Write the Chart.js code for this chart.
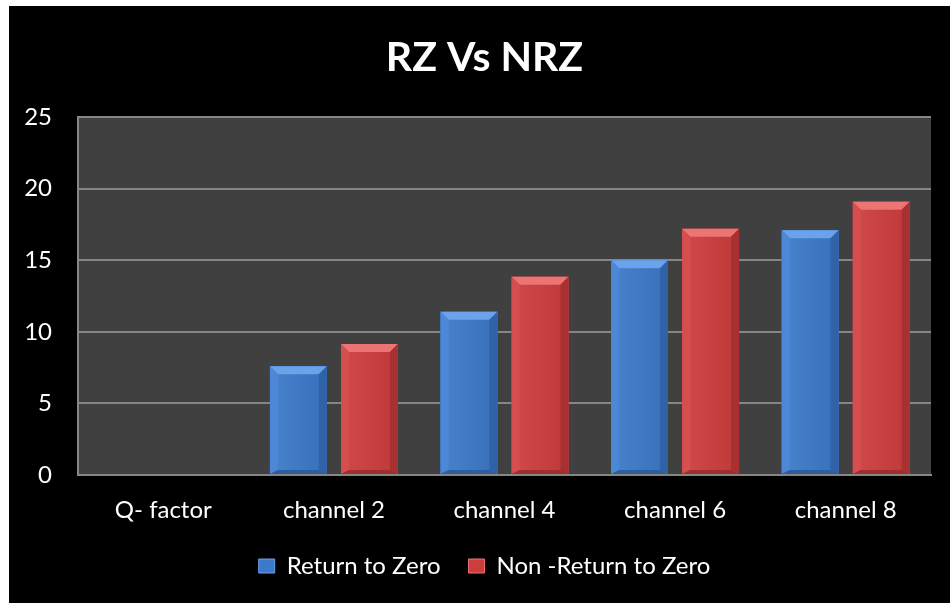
<!DOCTYPE html>
<html>
<head>
<meta charset="utf-8">
<script src="https://cdn.jsdelivr.net/npm/chart.js@4"></script>
<style>
  html, body { margin: 0; padding: 0; background: #ffffff; }
  #wrap { position: absolute; left: 9px; top: 6px; width: 941px; height: 597px; }
</style>
</head>
<body>
<div id="wrap"><canvas id="c"></canvas></div>
<script>
const categories = ["Q- factor", "channel 2", "channel 4", "channel 6", "channel 8"];
const rzValues = [0, 7.6, 11.4, 15.0, 17.1];
const nrzValues = [0, 9.15, 13.85, 17.2, 19.1];
const seriesNames = ["Return to Zero", "Non -Return to Zero"];
const yTicks = [0, 5, 10, 15, 20, 25];

const FONT = "Lato, 'Open Sans', sans-serif";

const bgPlugin = {
  id: 'bg',
  beforeDraw(chart) {
    const ctx = chart.ctx;
    ctx.save();
    ctx.fillStyle = '#000000';
    ctx.fillRect(0, 0, chart.width, chart.height);
    const a = chart.chartArea;
    ctx.fillStyle = '#404040';
    ctx.fillRect(a.left, a.top, a.right - a.left, a.bottom - a.top);
    ctx.restore();
  }
};

const palettes = [
  { main: '#3c79c8', top: '#6aa3ea', left: '#4c88d6', right: '#2f62a6', bottom: '#2f5e9e' },
  { main: '#cc3e3e', top: '#ec7474', left: '#d64f4f', right: '#a83030', bottom: '#a02e2e' }
];

const bevelPlugin = {
  id: 'bevel',
  afterDatasetsDraw(chart) {
    const ctx = chart.ctx;
    chart.data.datasets.forEach((ds, di) => {
      const meta = chart.getDatasetMeta(di);
      const p = palettes[di];
      meta.data.forEach(el => {
        const { x, y, base, width } = el.getProps(['x', 'y', 'base', 'width'], true);
        const h = base - y;
        if (h < 1) return;
        const l = x - width / 2, r = x + width / 2, t = y, b = base;
        const bv = Math.min(8, h / 2);
        const bb = Math.min(4, h / 4);
        ctx.save();
        ctx.fillStyle = p.main;
        ctx.fillRect(l, t, width, h);
        ctx.fillStyle = p.top;
        ctx.beginPath();
        ctx.moveTo(l, t); ctx.lineTo(r, t); ctx.lineTo(r - bv, t + bv); ctx.lineTo(l + bv, t + bv); ctx.closePath(); ctx.fill();
        ctx.fillStyle = p.left;
        ctx.beginPath();
        ctx.moveTo(l, t); ctx.lineTo(l + bv, t + bv); ctx.lineTo(l + bv, b - bb); ctx.lineTo(l, b); ctx.closePath(); ctx.fill();
        ctx.fillStyle = p.right;
        ctx.beginPath();
        ctx.moveTo(r, t); ctx.lineTo(r - bv, t + bv); ctx.lineTo(r - bv, b - bb); ctx.lineTo(r, b); ctx.closePath(); ctx.fill();
        ctx.fillStyle = p.bottom;
        ctx.beginPath();
        ctx.moveTo(l, b); ctx.lineTo(l + bv, b - bb); ctx.lineTo(r - bv, b - bb); ctx.lineTo(r, b); ctx.closePath(); ctx.fill();
        const g = ctx.createLinearGradient(l + bv, 0, r - bv, 0);
        g.addColorStop(0, 'rgba(255,255,255,0.05)');
        g.addColorStop(1, 'rgba(0,0,0,0.05)');
        ctx.fillStyle = g;
        ctx.fillRect(l + bv, t + bv, width - 2 * bv, h - bv - bb);
        ctx.restore();
      });
    });
  }
};

new Chart(document.getElementById('c'), {
  type: 'bar',
  data: {
    labels: categories,
    datasets: [
      { label: seriesNames[0], data: rzValues, backgroundColor: palettes[0].main },
      { label: seriesNames[1], data: nrzValues, backgroundColor: palettes[1].main }
    ]
  },
  options: {
    responsive: true,
    maintainAspectRatio: false,
    animation: false,
    layout: { padding: { left: 10, right: 0, top: 0, bottom: 15 } },
    datasets: { bar: { categoryPercentage: 0.833, barPercentage: 0.8 } },
    plugins: {
      title: {
        display: true,
        text: 'RZ Vs NRZ',
        color: '#ffffff',
        font: { family: FONT, size: 41, weight: 'bold', lineHeight: 1.2 },
        padding: { top: 27, bottom: 35 }
      },
      legend: {
        position: 'bottom',
        labels: {
          color: '#ffffff',
          font: { family: FONT, size: 24 },
          boxWidth: 16,
          boxHeight: 14,
          padding: 28,
          generateLabels(chart) {
            return chart.data.datasets.map((ds, i) => ({
              text: ds.label,
              fillStyle: palettes[i].main,
              strokeStyle: palettes[i].top,
              lineWidth: 1,
              fontColor: '#ffffff',
              datasetIndex: i
            }));
          }
        }
      },
      tooltip: { enabled: false }
    },
    scales: {
      x: {
        afterFit(scale) { scale.height = 51; },
        grid: { display: false, drawTicks: false },
        border: { display: true, color: '#868686', width: 2 },
        ticks: { color: '#ffffff', font: { family: FONT, size: 24 }, padding: 21 }
      },
      y: {
        min: 0, max: 25,
        afterBuildTicks(scale) { scale.ticks = yTicks.map(v => ({ value: v })); },
        afterFit(scale) { scale.width = 59; },
        grid: { color: '#868686', lineWidth: 2, drawTicks: false },
        border: { display: true, color: '#868686', width: 2 },
        ticks: { color: '#ffffff', font: { family: FONT, size: 24 }, padding: 26 }
      },
      yRight: {
        position: 'right',
        display: true,
        afterFit(scale) { scale.width = 19; },
        grid: { display: false, drawTicks: false },
        border: { display: false },
        ticks: { display: false }
      }
    }
  },
  plugins: [bgPlugin, bevelPlugin]
});
</script>
</body>
</html>
